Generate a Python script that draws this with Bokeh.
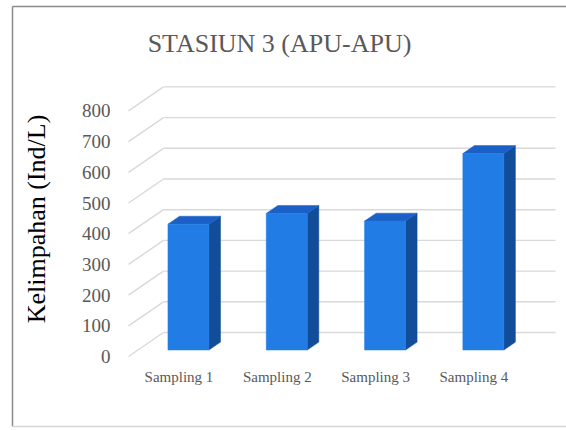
from bokeh.plotting import figure
from bokeh.models import Range1d, LinearAxis, FixedTicker, Label, Grid
from bokeh.embed import file_html
from bokeh.resources import INLINE

# ---- data -------------------------------------------------------------
categories = ["Sampling 1", "Sampling 2", "Sampling 3", "Sampling 4"]
abundance = [410, 445, 420, 640]          # Ind/L
y_ticks = [0, 100, 200, 300, 400, 500, 600, 700, 800]
title_text = "STASIUN 3 (APU-APU)"
y_label = "Kelimpahan (Ind/L)"

# ---- layout / projection constants -------------------------------------
W, H = 566, 430
X_FIRST = 178.5      # canvas x of the first category (front plane)
X_STEP = 98.3        # canvas px between categories
Y_ZERO = 356.0       # canvas y of value 0 on the front plane
PX_PER_UNIT = 0.307  # canvas px per Ind/L


def ux(px):
    return 1 + (px - X_FIRST) / X_STEP


def vy(py):
    return (Y_ZERO - py) / PX_PER_UNIT


DEPTH_X = 35 / X_STEP          # oblique depth of the chart box
DEPTH_Y = 24 / PX_PER_UNIT
BAR_D0, BAR_D1 = 0.27, 0.60    # bar front / back depth fractions
BAR_HALF = 20.5 / X_STEP

FONT = "Liberation Serif"
GREY_TEXT = "#595959"
GRID = "#d9d9d9"
FRONT = "#217ce6"
TOP = "#1a60c6"
SIDE = "#124d9a"

p = figure(width=W, height=H,
           x_range=Range1d(ux(0), ux(W)), y_range=Range1d(vy(H), vy(0)),
           x_axis_location=None, y_axis_location=None,
           min_border=0, toolbar_location=None, output_backend="svg")
p.title.visible = False
p.outline_line_color = None
p.background_fill_color = "white"
p.border_fill_color = "white"
p.center = [r for r in p.center if not isinstance(r, Grid)]

# ---- chart border -------------------------------------------------------
p.multi_line(xs=[[ux(12), ux(W + 5)], [ux(12), ux(12)]],
             ys=[[vy(6), vy(6)], [vy(6), vy(426)]],
             line_color="#8c8c8c", line_width=1.5)
p.line(x=[ux(12), ux(W + 5)], y=[vy(426), vy(426)],
       line_color="#d6d6d6", line_width=1.5)

# ---- oblique grid: side diagonals and back-wall lines -------------------
x_front = ux(128)
x_back = x_front + DEPTH_X
x_right = ux(555)
p.segment(x0=[x_front] * len(y_ticks), y0=y_ticks,
          x1=[x_back] * len(y_ticks), y1=[t + DEPTH_Y for t in y_ticks],
          line_color=GRID, line_width=1.4)
p.segment(x0=[x_back] * len(y_ticks), y0=[t + DEPTH_Y for t in y_ticks],
          x1=[x_right] * len(y_ticks), y1=[t + DEPTH_Y for t in y_ticks],
          line_color=GRID, line_width=1.4)

# ---- 3-D bars -----------------------------------------------------------
positions = list(range(1, len(categories) + 1))
fx0 = BAR_D0 * DEPTH_X
fy0 = BAR_D0 * DEPTH_Y
fx1 = BAR_D1 * DEPTH_X
fy1 = BAR_D1 * DEPTH_Y

side_xs, side_ys, top_xs, top_ys = [], [], [], []
for pos, val in zip(positions, abundance):
    xl0, xr0 = pos - BAR_HALF + fx0, pos + BAR_HALF + fx0
    xl1, xr1 = pos - BAR_HALF + fx1, pos + BAR_HALF + fx1
    side_xs.append([xr0, xr1, xr1, xr0])
    side_ys.append([fy0, fy1, val + fy1, val + fy0])
    top_xs.append([xl0, xr0, xr1, xl1])
    top_ys.append([val + fy0, val + fy0, val + fy1, val + fy1])

p.patches(xs=side_xs, ys=side_ys, fill_color=SIDE, line_color=SIDE, line_width=0.5)
p.patches(xs=top_xs, ys=top_ys, fill_color=TOP, line_color=TOP, line_width=0.5)
p.quad(left=[x - BAR_HALF + fx0 for x in positions],
       right=[x + BAR_HALF + fx0 for x in positions],
       bottom=[fy0] * len(positions),
       top=[v + fy0 for v in abundance],
       fill_color=FRONT, line_color=FRONT, line_width=0.5)

# ---- axes ---------------------------------------------------------------
y_axis = LinearAxis(fixed_location=ux(118), ticker=FixedTicker(ticks=y_ticks),
                    bounds=(vy(218.5) - 450, vy(218.5) + 450),
                    axis_line_color=None, major_tick_line_color=None,
                    minor_tick_line_color=None, major_tick_out=0, major_tick_in=0,
                    major_label_standoff=8,
                    major_label_text_font=FONT, major_label_text_font_size="19px",
                    major_label_text_color=GREY_TEXT,
                    axis_label=y_label, axis_label_standoff=28,
                    axis_label_text_font=FONT, axis_label_text_font_size="26px",
                    axis_label_text_font_style="normal",
                    axis_label_text_color="black")
p.add_layout(y_axis, "left")

x_axis = LinearAxis(fixed_location=vy(362), ticker=FixedTicker(ticks=positions),
                    major_label_overrides={pos: c for pos, c in zip(positions, categories)},
                    axis_line_color=None, major_tick_line_color=None,
                    minor_tick_line_color=None, major_tick_out=0, major_tick_in=0,
                    major_label_standoff=6,
                    major_label_text_font=FONT, major_label_text_font_size="15px",
                    major_label_text_color=GREY_TEXT)
p.add_layout(x_axis, "below")

# ---- title --------------------------------------------------------------
p.add_layout(Label(x=ux(279), y=vy(43), text=title_text,
                   text_align="center", text_baseline="middle",
                   text_font=FONT, text_font_size="26px",
                   text_color=GREY_TEXT))

open("out.html", "w").write(file_html(p, INLINE))
